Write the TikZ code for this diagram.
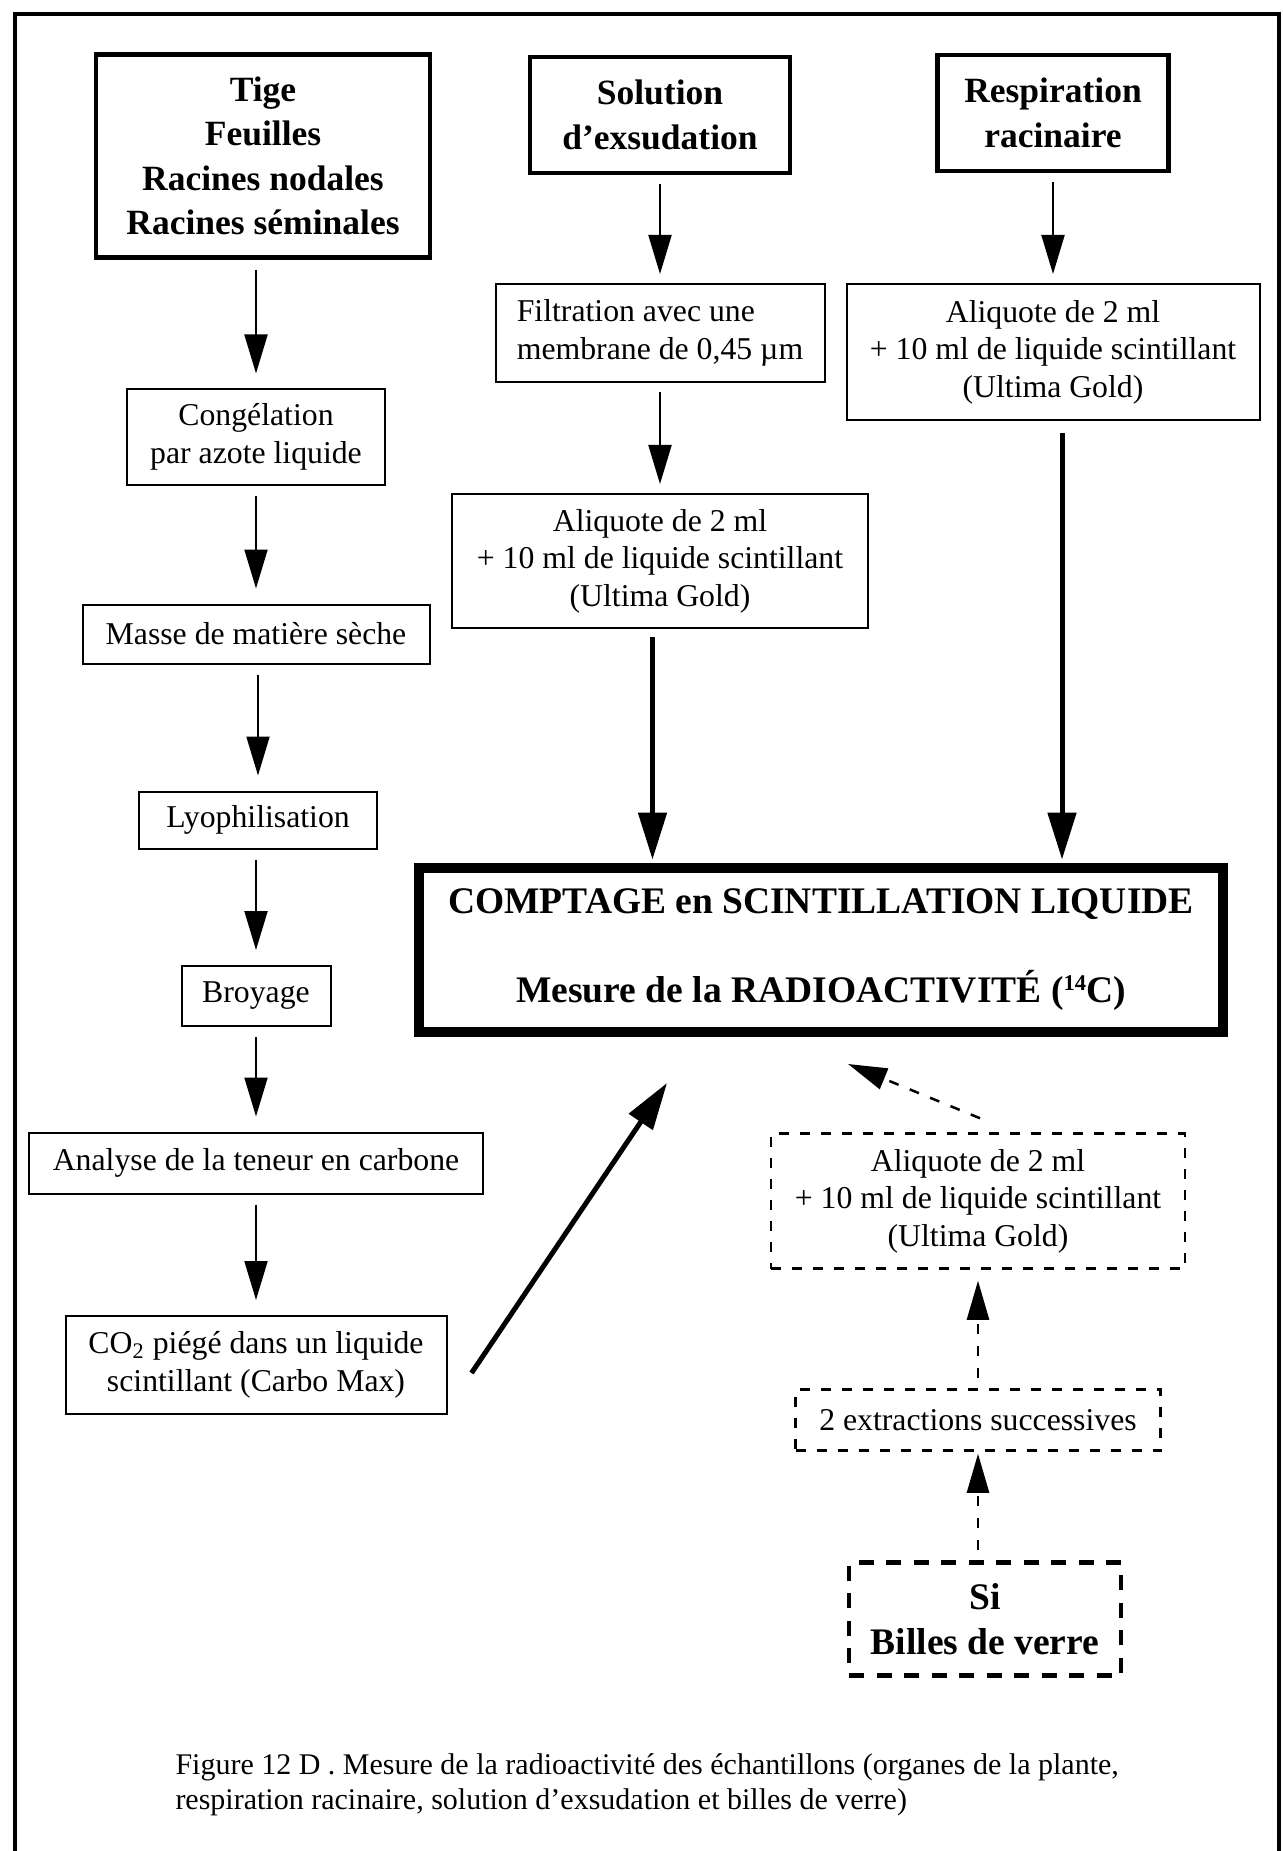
\documentclass[tikz,border=0pt]{standalone}
\usepackage{fontspec}
\setmainfont{Liberation Serif}
\usetikzlibrary{arrows.meta,calc}

\tikzset{
  boxsize/.style 2 args={minimum width=#1*0.4pt, minimum height=#2*0.4pt},
  box/.style={draw, line width=0.8pt, align=center, inner sep=0pt,
    font=\fontsize{12.7}{15}\selectfont},
  headbox/.style={draw, line width=1.8pt, align=center, inner sep=0pt,
    font=\fontsize{14.2}{17.8}\selectfont\bfseries},
  mainbox/.style={draw, line width=3.8pt, align=center, inner sep=0pt,
    font=\fontsize{15}{18}\selectfont\bfseries},
  dashbox/.style={box, line width=1pt, dash pattern=on 4pt off 4.4pt},
  billesbox/.style={headbox, dash pattern=on 6pt off 5pt,
    font=\fontsize{15}{18}\selectfont\bfseries},
  thinarrow/.style={-{Triangle[length=15.6pt,width=9.2pt]}, line width=0.8pt,
    shorten <=4pt, shorten >=6pt},
  bigarrow/.style={-{Triangle[length=18.8pt,width=11.2pt]}, line width=2pt},
  dasharrow/.style={-{Triangle[length=15.6pt,width=8.8pt]}, line width=1pt,
    dash pattern=on 4pt off 4.8pt},
}

\begin{document}
\begin{tikzpicture}[x=0.4pt, y=-0.4pt]
\useasboundingbox (0,0) rectangle (1283,1851);
\draw[line width=1.6pt] (15,1900) -- (15,14) -- (1279,14) -- (1279,1900);

% top row
\node[headbox, boxsize={334}{203}] (tige) at (263,156) {Tige\\Feuilles\\Racines nodales\\Racines séminales};
\node[headbox, boxsize={260}{116}] (sol) at (660,115) {Solution\\d’exsudation};
\node[headbox, boxsize={231}{116}] (resp) at (1053,113) {Respiration\\racinaire};

% left column
\node[box, boxsize={258}{95}] (cong) at (256,437) {Congélation\\par azote liquide};
\node[box, boxsize={347}{59}] (masse) at (256,634) {Masse de matière sèche};
\node[box, boxsize={238}{57}] (lyo) at (258,820) {Lyophilisation};
\node[box, boxsize={149}{60}] (broy) at (256,996) {Broyage};
\node[box, boxsize={454}{61}] (analyse) at (256,1163) {Analyse de la teneur en carbone};
\node[box, boxsize={381}{98}] (co2) at (256,1365) {CO\textsubscript{2} piégé dans un liquide\\scintillant (Carbo Max)};

% middle and right columns
\node[box, align=left, boxsize={329}{98}] (filt) at (660,333) {Filtration avec une\\membrane de 0,45 µm};
\node[box, boxsize={413}{136}] (aliqR) at (1053,352) {Aliquote de 2 ml\\+ 10 ml de liquide scintillant\\(Ultima Gold)};
\node[box, boxsize={416}{134}] (aliqS) at (660,561) {Aliquote de 2 ml\\+ 10 ml de liquide scintillant\\(Ultima Gold)};
\node[mainbox, boxsize={804}{164}] (comptage) at (821,950)
  {COMPTAGE en SCINTILLATION LIQUIDE\\[17.6pt]Mesure de la RADIOACTIVITÉ (\raisebox{5pt}{\fontsize{9}{9}\selectfont 14}C)};

% glass beads
\node[dashbox, boxsize={414}{135}] (aliqD) at (978,1201) {Aliquote de 2 ml\\+ 10 ml de liquide scintillant\\(Ultima Gold)};
\node[dashbox, boxsize={365}{61}] (extr) at (978,1420) {2 extractions successives};
\node[billesbox, boxsize={272}{113}] (billes) at (985,1619) {Si\\Billes de verre};

\node[anchor=west, align=left, inner sep=0pt, font=\fontsize{12}{14}\selectfont] (legende) at (175,1785)
  {Figure 12 D . Mesure de la radioactivité des échantillons (organes de la plante,\\
   respiration racinaire, solution d’exsudation et billes de verre)};

\coordinate (co2tip) at (667,1083);
\coordinate (dtip) at (848,1064);

\draw[thinarrow] (tige.south -| cong.north) -- (cong.north);
\draw[thinarrow] (cong) -- (masse);
\draw[thinarrow] (masse.south -| lyo.north) -- (lyo.north);
\draw[thinarrow] (lyo.south -| broy.north) -- (broy.north);
\draw[thinarrow] (broy) -- (analyse);
\draw[thinarrow] (analyse) -- (co2);
\draw[thinarrow, shorten <=3.6pt, shorten >=3.6pt] (sol) -- (filt);
\draw[thinarrow, shorten <=3.6pt, shorten >=3.6pt] (resp) -- (aliqR);
\draw[thinarrow, shorten <=3.6pt, shorten >=3.6pt] (filt) -- (aliqS);
\draw[bigarrow, shorten <=3.2pt, shorten >=1.5pt] ([xshift=-3pt]aliqS.south) -- ([xshift=-3pt]aliqS.south |- comptage.north);
\draw[bigarrow, shorten <=5pt, shorten >=1.5pt] ([xshift=3.6pt]aliqR.south) -- ([xshift=3.6pt]aliqR.south |- comptage.north);
\draw[bigarrow] ($(co2.east)+(24,8)$) -- (co2tip);
\draw[dasharrow] ($(aliqD.north)+(2,-14)$) -- (dtip);
\draw[dasharrow, shorten <=4pt, shorten >=4.4pt] (extr) -- (aliqD);
\draw[dasharrow, shorten <=4pt, shorten >=0.8pt] (billes.north -| extr.south) -- (extr.south);
\end{tikzpicture}
\end{document}
